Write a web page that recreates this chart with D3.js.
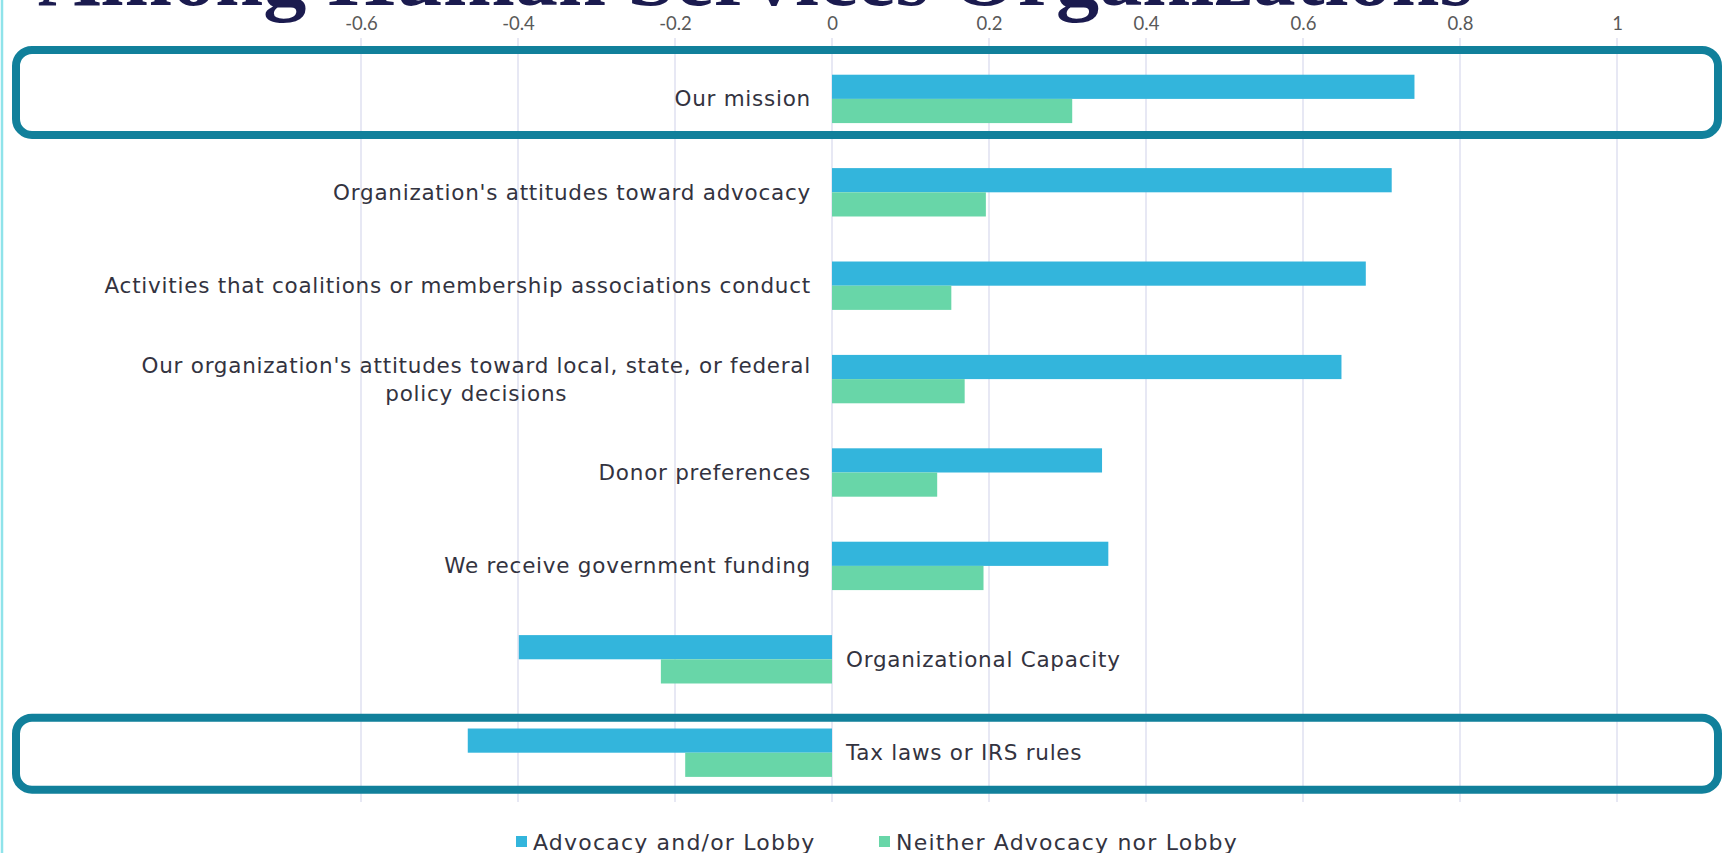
<!DOCTYPE html>
<html>
<head>
<meta charset="utf-8">
<script src="https://cdn.jsdelivr.net/npm/d3@7"></script>
<style>
  html, body { margin: 0; padding: 0; background: #ffffff; }
  svg { display: block; }
</style>
</head>
<body>
<script>
// Factors influencing advocacy decisions, by organization type
const categories = [
  "Our mission",
  "Organization's attitudes toward advocacy",
  "Activities that coalitions or membership associations conduct",
  "Our organization's attitudes toward local, state, or federal policy decisions",
  "Donor preferences",
  "We receive government funding",
  "Organizational Capacity",
  "Tax laws or IRS rules"
];
const advocacyLobby = [0.742, 0.713, 0.680, 0.649, 0.344, 0.352, -0.399, -0.464];
const neitherAdvocacyNorLobby = [0.306, 0.196, 0.152, 0.169, 0.134, 0.193, -0.218, -0.187];
const seriesNames = ["Advocacy and/or Lobby", "Neither Advocacy nor Lobby"];
const tickValues = [-0.6, -0.4, -0.2, 0, 0.2, 0.4, 0.6, 0.8, 1];
const highlighted = ["Our mission", "Tax laws or IRS rules"];
const titleText = "Among Human Services Organizations";

const W = 1723, H = 853;
const colors = ["#33b5dc", "#68d6a8"];
const seriesValues = [advocacyLobby, neitherAdvocacyNorLobby];
const labelFont = "'DejaVu Sans', Lato, sans-serif";

const svg = d3.select("body").append("svg")
  .attr("width", W).attr("height", H);

svg.append("rect").attr("width", W).attr("height", H).attr("fill", "#ffffff");

// Slide title, mostly above the visible frame
svg.append("text")
  .attr("x", 38).attr("y", 5)
  .attr("textLength", 1435)
  .attr("lengthAdjust", "spacingAndGlyphs")
  .attr("font-family", "'Liberation Serif', 'DejaVu Serif', serif")
  .attr("font-size", 82)
  .attr("font-weight", "bold")
  .attr("fill", "#1b1b4f")
  .text(titleText);

const x = d3.scaleLinear().domain([-0.6, 1]).range([361, 1617]);
const y = d3.scaleBand().domain(categories).range([52.2, 799.4])
  .paddingInner(0.482).paddingOuter(0.241);
const ySeries = d3.scaleBand().domain(seriesNames).range([0, y.bandwidth()]);

// Vertical gridlines
svg.append("g")
  .selectAll("line")
  .data(tickValues)
  .join("line")
  .attr("x1", d => x(d)).attr("x2", d => x(d))
  .attr("y1", 38).attr("y2", 802)
  .attr("stroke", "#dfe1f0").attr("stroke-width", 1.5);

// Top axis labels (plain hyphen for negatives)
const axis = d3.axisTop(x).tickValues(tickValues).tickSize(0).tickPadding(0)
  .tickFormat(d => String(+d.toFixed(1)));
const gAxis = svg.append("g").attr("transform", "translate(0,30)").call(axis);
gAxis.select(".domain").remove();
gAxis.selectAll("text")
  .attr("font-family", "Lato, 'Open Sans', sans-serif")
  .attr("font-size", 18.5)
  .attr("fill", "#595959");

// Bars
seriesNames.forEach((name, si) => {
  svg.append("g")
    .selectAll("rect")
    .data(categories.map((c, i) => ({ c, v: seriesValues[si][i] })))
    .join("rect")
    .attr("x", d => x(Math.min(0, d.v)))
    .attr("width", d => Math.abs(x(d.v) - x(0)))
    .attr("y", d => y(d.c) + ySeries(name))
    .attr("height", ySeries.bandwidth())
    .attr("fill", colors[si]);
});

// Category labels next to the zero line
const labelWrap = {
  "Our organization's attitudes toward local, state, or federal policy decisions":
    ["Our organization's attitudes toward local, state, or federal", "policy decisions"]
};
const labels = svg.append("g")
  .attr("font-family", labelFont)
  .attr("font-size", 21.5)
  .attr("letter-spacing", 0.75)
  .attr("fill", "#333340");

categories.forEach((c, i) => {
  const negative = advocacyLobby[i] < 0;
  const cy = y(c) + y.bandwidth() / 2;
  const lines = labelWrap[c] || [c];
  const t = labels.append("text")
    .attr("text-anchor", negative ? "start" : "end")
    .attr("dominant-baseline", "central");
  if (lines.length === 1) {
    t.attr("x", negative ? x(0) + 14 : x(0) - 21).attr("y", cy).text(c);
  } else {
    // first line right-aligned, second line centred beneath it
    const first = t.attr("x", x(0) - 21).attr("y", cy - 14).text(lines[0]);
    const w = first.node().getComputedTextLength();
    labels.append("text")
      .attr("text-anchor", "middle")
      .attr("dominant-baseline", "central")
      .attr("x", x(0) - 21 - w / 2).attr("y", cy + 14)
      .text(lines[1]);
  }
});

// Highlight frames around selected categories (extent above / below the row centre)
const frameExtent = { "Our mission": [49, 36], "Tax laws or IRS rules": [35, 37] };
svg.append("g")
  .selectAll("rect")
  .data(highlighted)
  .join("rect")
  .attr("x", 16)
  .attr("y", d => y(d) + y.bandwidth() / 2 - frameExtent[d][0])
  .attr("width", 1702)
  .attr("height", d => frameExtent[d][0] + frameExtent[d][1])
  .attr("rx", 16).attr("ry", 16)
  .attr("fill", "none")
  .attr("stroke", "#11809b")
  .attr("stroke-width", 8);

// Legend
const legend = svg.append("g")
  .attr("font-family", labelFont)
  .attr("font-size", 22)
  .attr("fill", "#333340");
const legendX = [516, 879];
seriesNames.forEach((name, i) => {
  legend.append("rect")
    .attr("x", legendX[i]).attr("y", 836)
    .attr("width", 11).attr("height", 11)
    .attr("fill", colors[i]);
  legend.append("text")
    .attr("x", legendX[i] + 17).attr("y", 842)
    .attr("dominant-baseline", "central")
    .attr("letter-spacing", 1.2)
    .text(name);
});

// Thin frame edge on the left
svg.append("line")
  .attr("x1", 2).attr("x2", 2).attr("y1", 0).attr("y2", H)
  .attr("stroke", "#8fe3ea").attr("stroke-width", 2.5);
</script>
</body>
</html>
